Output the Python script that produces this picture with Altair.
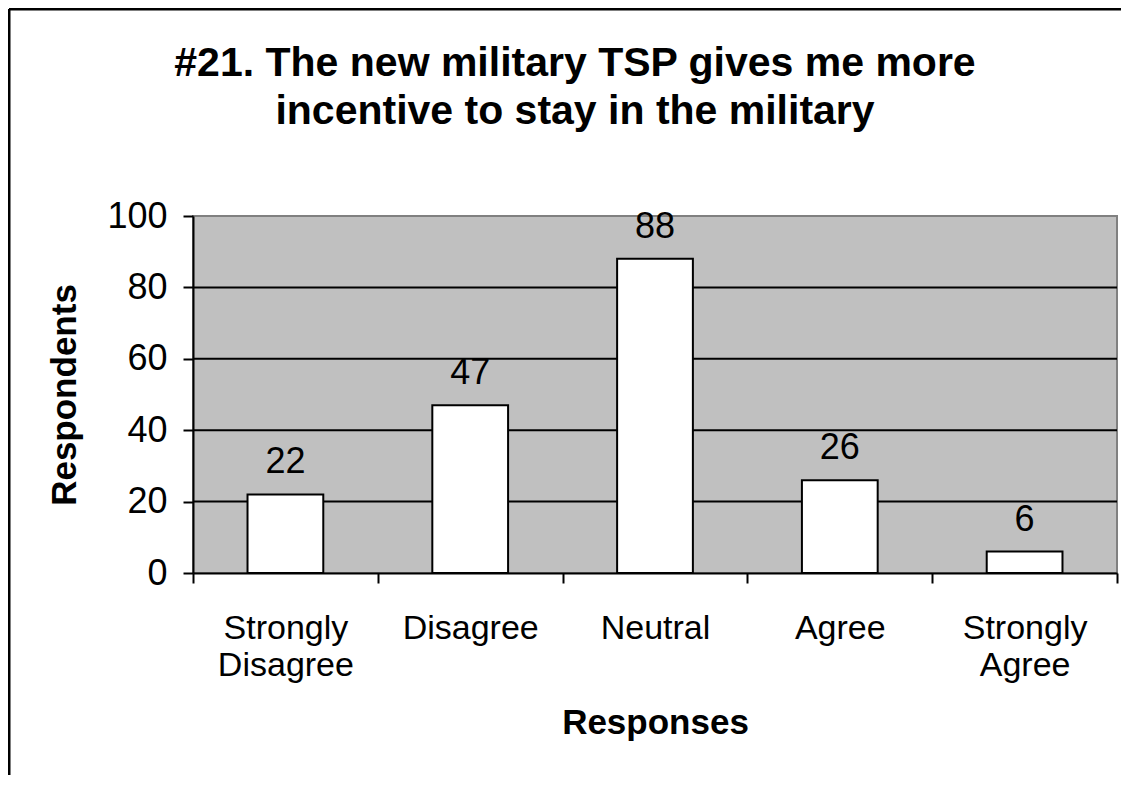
import altair as alt
import pandas as pd

# ---- data ----
categories = ["Strongly Disagree", "Disagree", "Neutral", "Agree", "Strongly Agree"]
values = [22, 47, 88, 26, 6]
y_ticks = [0, 20, 40, 60, 80, 100]
grid_values = [20, 40, 60, 80]
title_lines = ["#21. The new military TSP gives me more", "incentive to stay in the military"]

df = pd.DataFrame({"Response": categories, "Count": values})
grid_df = pd.DataFrame({"Count": grid_values})
dummy = pd.DataFrame({"a": [0]})

FONT = "Liberation Sans"
yscale = alt.Scale(domain=[0, 100], nice=False, zero=True)
xscale = alt.Scale(paddingInner=0, paddingOuter=0)

x_axis = alt.Axis(
    title="Responses", titleFontSize=35, titleFontWeight="bold", titleColor="black",
    titleY=160, titleBaseline="alphabetic",
    labelAngle=0, labelFontSize=34, labelColor="black",
    labelExpr="split(datum.label, ' ')", labelLineHeight=37, labelPadding=28,
    tickBand="extent", tickSize=10, tickColor="black", tickWidth=2,
    domainColor="black", domainWidth=2, grid=False,
)
y_axis = alt.Axis(
    title="Respondents", titleFontSize=35, titleFontWeight="bold", titleColor="black",
    titleX=-118, titleBaseline="alphabetic",
    values=y_ticks, labelFontSize=36, labelColor="black", labelPadding=16,
    tickSize=10, tickColor="black", tickWidth=2,
    domainColor="black", domainWidth=2, grid=False,
)

grid = alt.Chart(grid_df).mark_rule(color="black", strokeWidth=2).encode(
    y=alt.Y("Count:Q", scale=yscale, axis=y_axis)
)

bars = alt.Chart(df).mark_bar(
    fill="white", stroke="black", strokeWidth=2, width=alt.RelativeBandSize(0.41)
).encode(
    x=alt.X("Response:N", sort=categories, scale=xscale, axis=x_axis),
    y=alt.Y("Count:Q", scale=yscale, axis=y_axis),
)

labels = alt.Chart(df).mark_text(
    dy=-21, baseline="alphabetic", fontSize=36, color="black"
).encode(
    x=alt.X("Response:N", sort=categories, scale=xscale, axis=x_axis),
    y=alt.Y("Count:Q", scale=yscale, axis=y_axis),
    text=alt.Text("Count:Q"),
)

title = alt.Chart(dummy).mark_text(
    text=title_lines, fontSize=41, fontWeight="bold", color="black",
    align="center", baseline="top", lineHeight=48,
).encode(x=alt.value(382), y=alt.value(-172))

frame_top = alt.Chart(dummy).mark_rule(color="black", strokeWidth=3).encode(
    x=alt.value(-184), x2=alt.value(930), y=alt.value(-207)
)
frame_left = alt.Chart(dummy).mark_rule(color="black", strokeWidth=3).encode(
    x=alt.value(-184), y=alt.value(-207), y2=alt.value(580)
)

chart = (
    alt.layer(grid, bars, labels, title, frame_top, frame_left)
    .properties(
        width=924,
        height=357,
        autosize=alt.AutoSizeParams(type="none"),
        padding={"left": 185, "top": 208, "right": 4, "bottom": 202},
        background="white",
    )
    .configure(font=FONT)
    .configure_view(fill="#C0C0C0", stroke="#808080", strokeWidth=2)
)

chart.save("out.html", embed_options={"renderer": "svg", "actions": False})
